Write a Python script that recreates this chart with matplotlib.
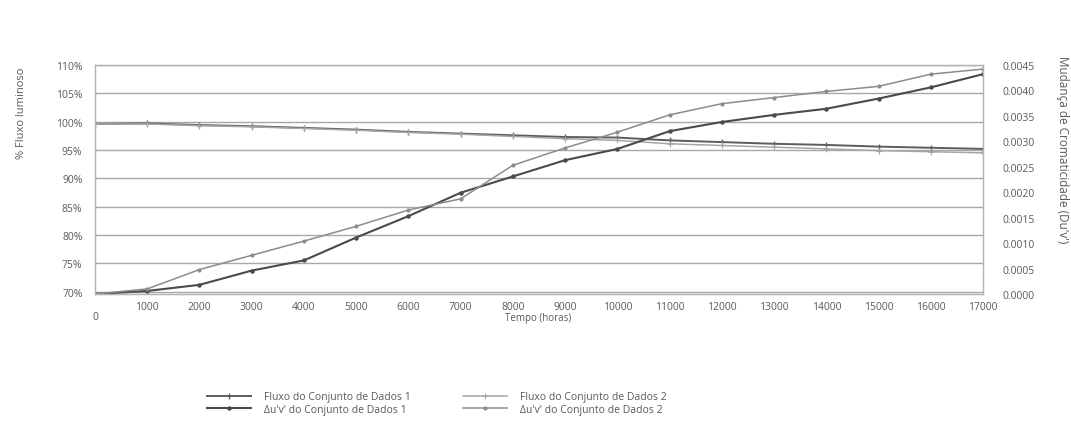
"""
Fluxo luminoso e mudança de cromaticidade ao longo do tempo
"""

import matplotlib
matplotlib.use('Agg')
import matplotlib.pyplot as plt
from matplotlib.lines import Line2D

# ── Data ──────────────────────────────────────────────────────────────────────
HOURS = [0, 1000, 2000, 3000, 4000, 5000, 6000, 7000, 8000, 9000,
         10000, 11000, 12000, 13000, 14000, 15000, 16000, 17000]

FLUX_1 = [99.6, 99.7, 99.4, 99.2, 98.9, 98.6, 98.2, 97.9, 97.6, 97.3,
          97.2, 96.7, 96.4, 96.1, 95.9, 95.6, 95.4, 95.2]
FLUX_2 = [99.6, 99.6, 99.3, 99.1, 98.8, 98.5, 98.1, 97.8, 97.4, 97.0,
          96.7, 96.1, 95.8, 95.5, 95.2, 94.9, 94.7, 94.5]

DUV_1 = [0.0, 0.00006, 0.00018, 0.00046, 0.00066, 0.00111, 0.00153, 0.00199,
         0.00231, 0.00263, 0.00285, 0.00320, 0.00338, 0.00352, 0.00364,
         0.00384, 0.00406, 0.00432]
DUV_2 = [0.0, 0.00010, 0.00048, 0.00076, 0.00104, 0.00133, 0.00165, 0.00187,
         0.00253, 0.00287, 0.00318, 0.00352, 0.00374, 0.00386, 0.00398,
         0.00408, 0.00432, 0.00442]

X_TICKS   = list(range(1000, 17001, 1000))
Y_TICKS   = [70, 75, 80, 85, 90, 95, 100, 105, 110]
Y2_TICKS  = [0.0, 0.0005, 0.0010, 0.0015, 0.0020, 0.0025, 0.0030, 0.0035, 0.0040, 0.0045]

LABELS = ['Fluxo do Conjunto de Dados 1', "Δu'v' do Conjunto de Dados 1",
          'Fluxo do Conjunto de Dados 2', "Δu'v' do Conjunto de Dados 2"]

# ── Style ─────────────────────────────────────────────────────────────────────
W, H = 1071, 431
TXT  = '#5a5a5a'
GRID = '#a8a8a8'
plt.rcParams['font.family'] = ['Open Sans', 'DejaVu Sans']

C_FLUX1, C_FLUX2 = '#5c5c5c', '#a6a6a6'
C_DUV1,  C_DUV2  = '#4a4a4a', '#8c8c8c'


def px(x0, y0, x1, y1):
    return [x0 / W, 1 - y1 / H, (x1 - x0) / W, (y1 - y0) / H]


# ── Plot ──────────────────────────────────────────────────────────────────────
fig = plt.figure(figsize=(W / 100, H / 100), dpi=100)
ax = fig.add_axes(px(95, 66, 983, 295))
ax2 = ax.twinx()

ax.plot(HOURS, FLUX_1, color=C_FLUX1, lw=1.4, marker='|', ms=4, mew=1)
ax.plot(HOURS, FLUX_2, color=C_FLUX2, lw=1.1, marker='+', ms=4, mew=0.8)
ax2.plot(HOURS, DUV_1, color=C_DUV1, lw=1.5, marker='o', ms=2.2)
ax2.plot(HOURS, DUV_2, color=C_DUV2, lw=1.1, marker='o', ms=2.0)

ax.set_xlim(0, 17000)
ax.set_ylim(69.6, 110)
ax2.set_ylim(0, 0.0045)

ax.set_yticks(Y_TICKS)
ax.set_yticklabels([f'{v}%' for v in Y_TICKS], fontsize=7.5, color=TXT)
ax2.set_yticks(Y2_TICKS)
ax2.set_yticklabels([f'{v:.4f}' for v in Y2_TICKS], fontsize=7.5, color=TXT)
ax.set_xticks(X_TICKS)
ax.set_xticklabels([str(v) for v in X_TICKS], fontsize=7.5, color=TXT)

ax.tick_params(axis='y', length=0, pad=9)
ax2.tick_params(axis='y', length=0, pad=14)
ax.tick_params(axis='x', length=0, pad=5)

ax.grid(axis='y', color=GRID, lw=1)
ax.set_axisbelow(True)
for a in (ax, ax2):
    for s in a.spines.values():
        s.set_color('#b4b4b4')
        s.set_linewidth(0.9)

fig.text(95 / W, 1 - 318 / H, '0', fontsize=7.5, color=TXT, ha='center', va='center')
fig.text(538 / W, 1 - 318 / H, 'Tempo (horas)', fontsize=7, color=TXT, ha='center', va='center')
fig.text(22 / W, 1 - 113 / H, '% Fluxo luminoso', fontsize=8, color=TXT,
         rotation=90, ha='center', va='center')
fig.text(1063 / W, 1 - 56 / H, "Mudança de Cromaticidade (Du'v')", fontsize=8.5, color=TXT,
         rotation=-90, ha='center', va='top')

# ── Legend ────────────────────────────────────────────────────────────────────
handles = [
    Line2D([], [], color=C_FLUX1, lw=1.4, marker='|', ms=4, mew=1),
    Line2D([], [], color=C_DUV1, lw=1.5, marker='o', ms=2.2),
    Line2D([], [], color=C_FLUX2, lw=1.1, marker='+', ms=4, mew=0.8),
    Line2D([], [], color=C_DUV2, lw=1.1, marker='o', ms=2.0),
]
leg = fig.legend(handles, LABELS, ncol=2, loc='center', bbox_to_anchor=(437 / W, 1 - 404 / H),
                 frameon=False, fontsize=7.5, handlelength=4.2, columnspacing=5.0,
                 labelspacing=0.15, handletextpad=1.3)
for t in leg.get_texts():
    t.set_color(TXT)

fig.savefig('out.png', dpi=100)
plt.close(fig)
